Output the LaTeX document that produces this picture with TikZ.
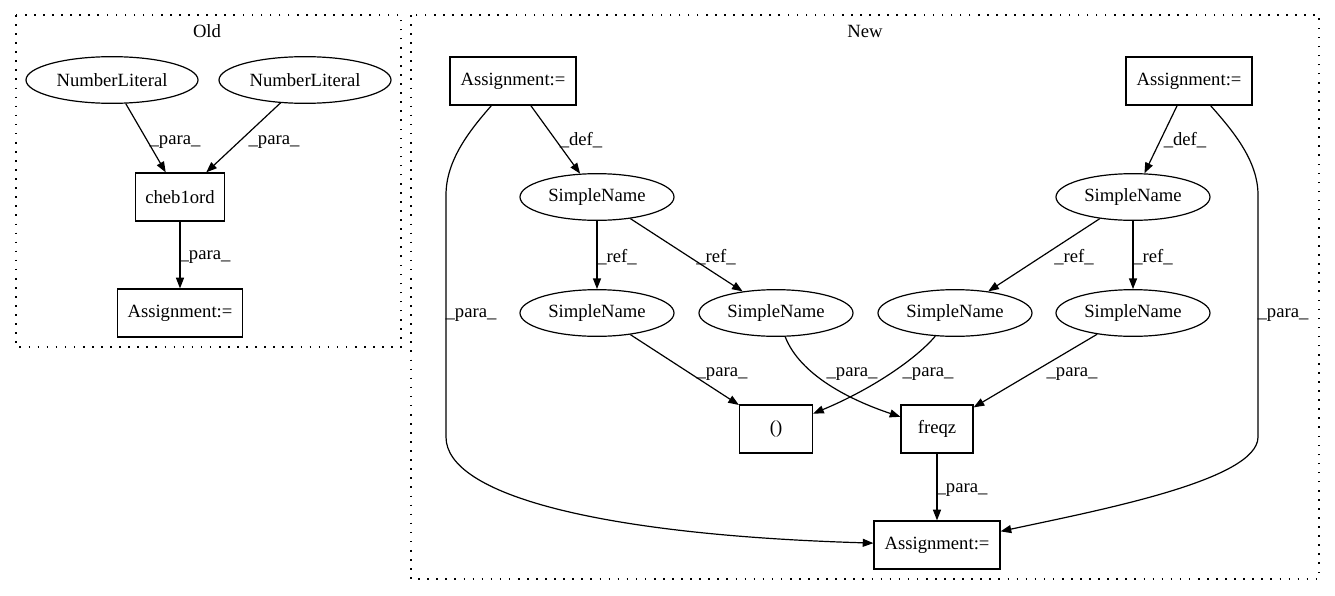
\documentclass[tikz,border=0pt]{standalone}
\usepackage{fontspec}
\setmainfont{Liberation Serif}
\usetikzlibrary{shapes.geometric,arrows.meta}
\begin{document}
\begin{tikzpicture}[x=0.75pt,y=-0.75pt,
  every node/.style={font=\fontsize{14}{16}\selectfont},
  ell/.style={draw,ellipse,line width=0.9pt,inner sep=0pt,minimum height=35pt},
  nl/.style={ell,minimum width=129pt},
  sn/.style={ell,minimum width=115.5pt},
  box/.style={draw,rectangle,line width=0.9pt,inner sep=0pt,minimum height=36pt},
  arr/.style={line width=0.9pt,-{Triangle[length=8pt,width=6pt]}},
  lbl/.style={inner sep=0pt},
  cluster/.style={line width=0.9pt,dash pattern=on 1.2pt off 5.6pt}
]
\useasboundingbox (0,0) rectangle (1335,596);
% clusters
\draw[cluster] (16,15) rectangle (401,347);
\draw[cluster] (411,15) rectangle (1319,579);
\node[lbl] (oldlbl) at (207,31) {Old};
\node[lbl] (newlbl) at (865,31) {New};

% Old
\node[nl] (nl1) at (112,80) {NumberLiteral};
\node[nl] (nl2) at (305,80) {NumberLiteral};
\node[box,minimum width=66.75pt] (cheb) at (180,197) {cheb1ord};
\node[box,minimum width=94pt] (oa) at (180,313) {Assignment:=};
\draw[arr] (nl1) -- (cheb);
\draw[arr] (nl2) -- (cheb);
\draw[arr] (cheb) -- (oa);
\node[lbl] (lo1) at (175,142) {\_para\_};
\node[lbl] (lo2) at (274,142) {\_para\_};
\node[lbl] (lo3) at (205,257) {\_para\_};

% New
\node[box,minimum width=94.5pt] (a1) at (513,81) {Assignment:=};
\node[box,minimum width=94.5pt] (a2) at (1189,81) {Assignment:=};
\node[sn] (s1) at (597,197) {SimpleName};
\node[sn] (s2) at (1133,197) {SimpleName};
\node[sn] (sa) at (597,313) {SimpleName};
\node[sn] (sb) at (776,313) {SimpleName};
\node[sn] (sc) at (955,313) {SimpleName};
\node[sn] (sd) at (1133,313) {SimpleName};
\node[box,minimum width=54.75pt] (par) at (776,429) {()};
\node[box,minimum width=54pt] (fq) at (937,429) {freqz};
\node[box,minimum width=94.5pt] (a3) at (937,545) {Assignment:=};

\draw[arr] (a1) -- (s1);
\draw[arr] (a2) -- (s2);
\draw[arr] (s1) -- (sa);
\draw[arr] (s1) -- (sb);
\draw[arr] (s2) -- (sc);
\draw[arr] (s2) -- (sd);
\draw[arr] (sa) -- (par);
\draw[arr] (sd) -- (fq);
\draw[arr] (sb) .. controls (800,375) and (850,400) .. (fq);
\draw[arr] (sc) .. controls (915,360) and (870,390) .. (par);
\draw[arr] (fq) -- (a3);
\draw[arr] (a1) .. controls (470,130) and (446,160) .. (446,195) -- (446,437)
  .. controls (446,495) and (600,535) .. (a3);
\draw[arr] (a2) .. controls (1232,130) and (1258,160) .. (1258,195) -- (1258,437)
  .. controls (1258,480) and (1100,510) .. (a3);

\node[lbl] (ld1) at (581,140) {\_def\_};
\node[lbl] (ld2) at (1185,140) {\_def\_};
\node[lbl] (lr1) at (617,257) {\_ref\_};
\node[lbl] (lr2) at (716,257) {\_ref\_};
\node[lbl] (lr3) at (1074,257) {\_ref\_};
\node[lbl] (lr4) at (1153,257) {\_ref\_};
\node[lbl] (lp1) at (722,374) {\_para\_};
\node[lbl] (lp2) at (852,374) {\_para\_};
\node[lbl] (lp3) at (928,374) {\_para\_};
\node[lbl] (lp4) at (1072,374) {\_para\_};
\node[lbl] (lp5) at (962,490) {\_para\_};
\node[lbl] (lp6) at (471,315) {\_para\_};
\node[lbl] (lp7) at (1283,315) {\_para\_};
\end{tikzpicture}
\end{document}
